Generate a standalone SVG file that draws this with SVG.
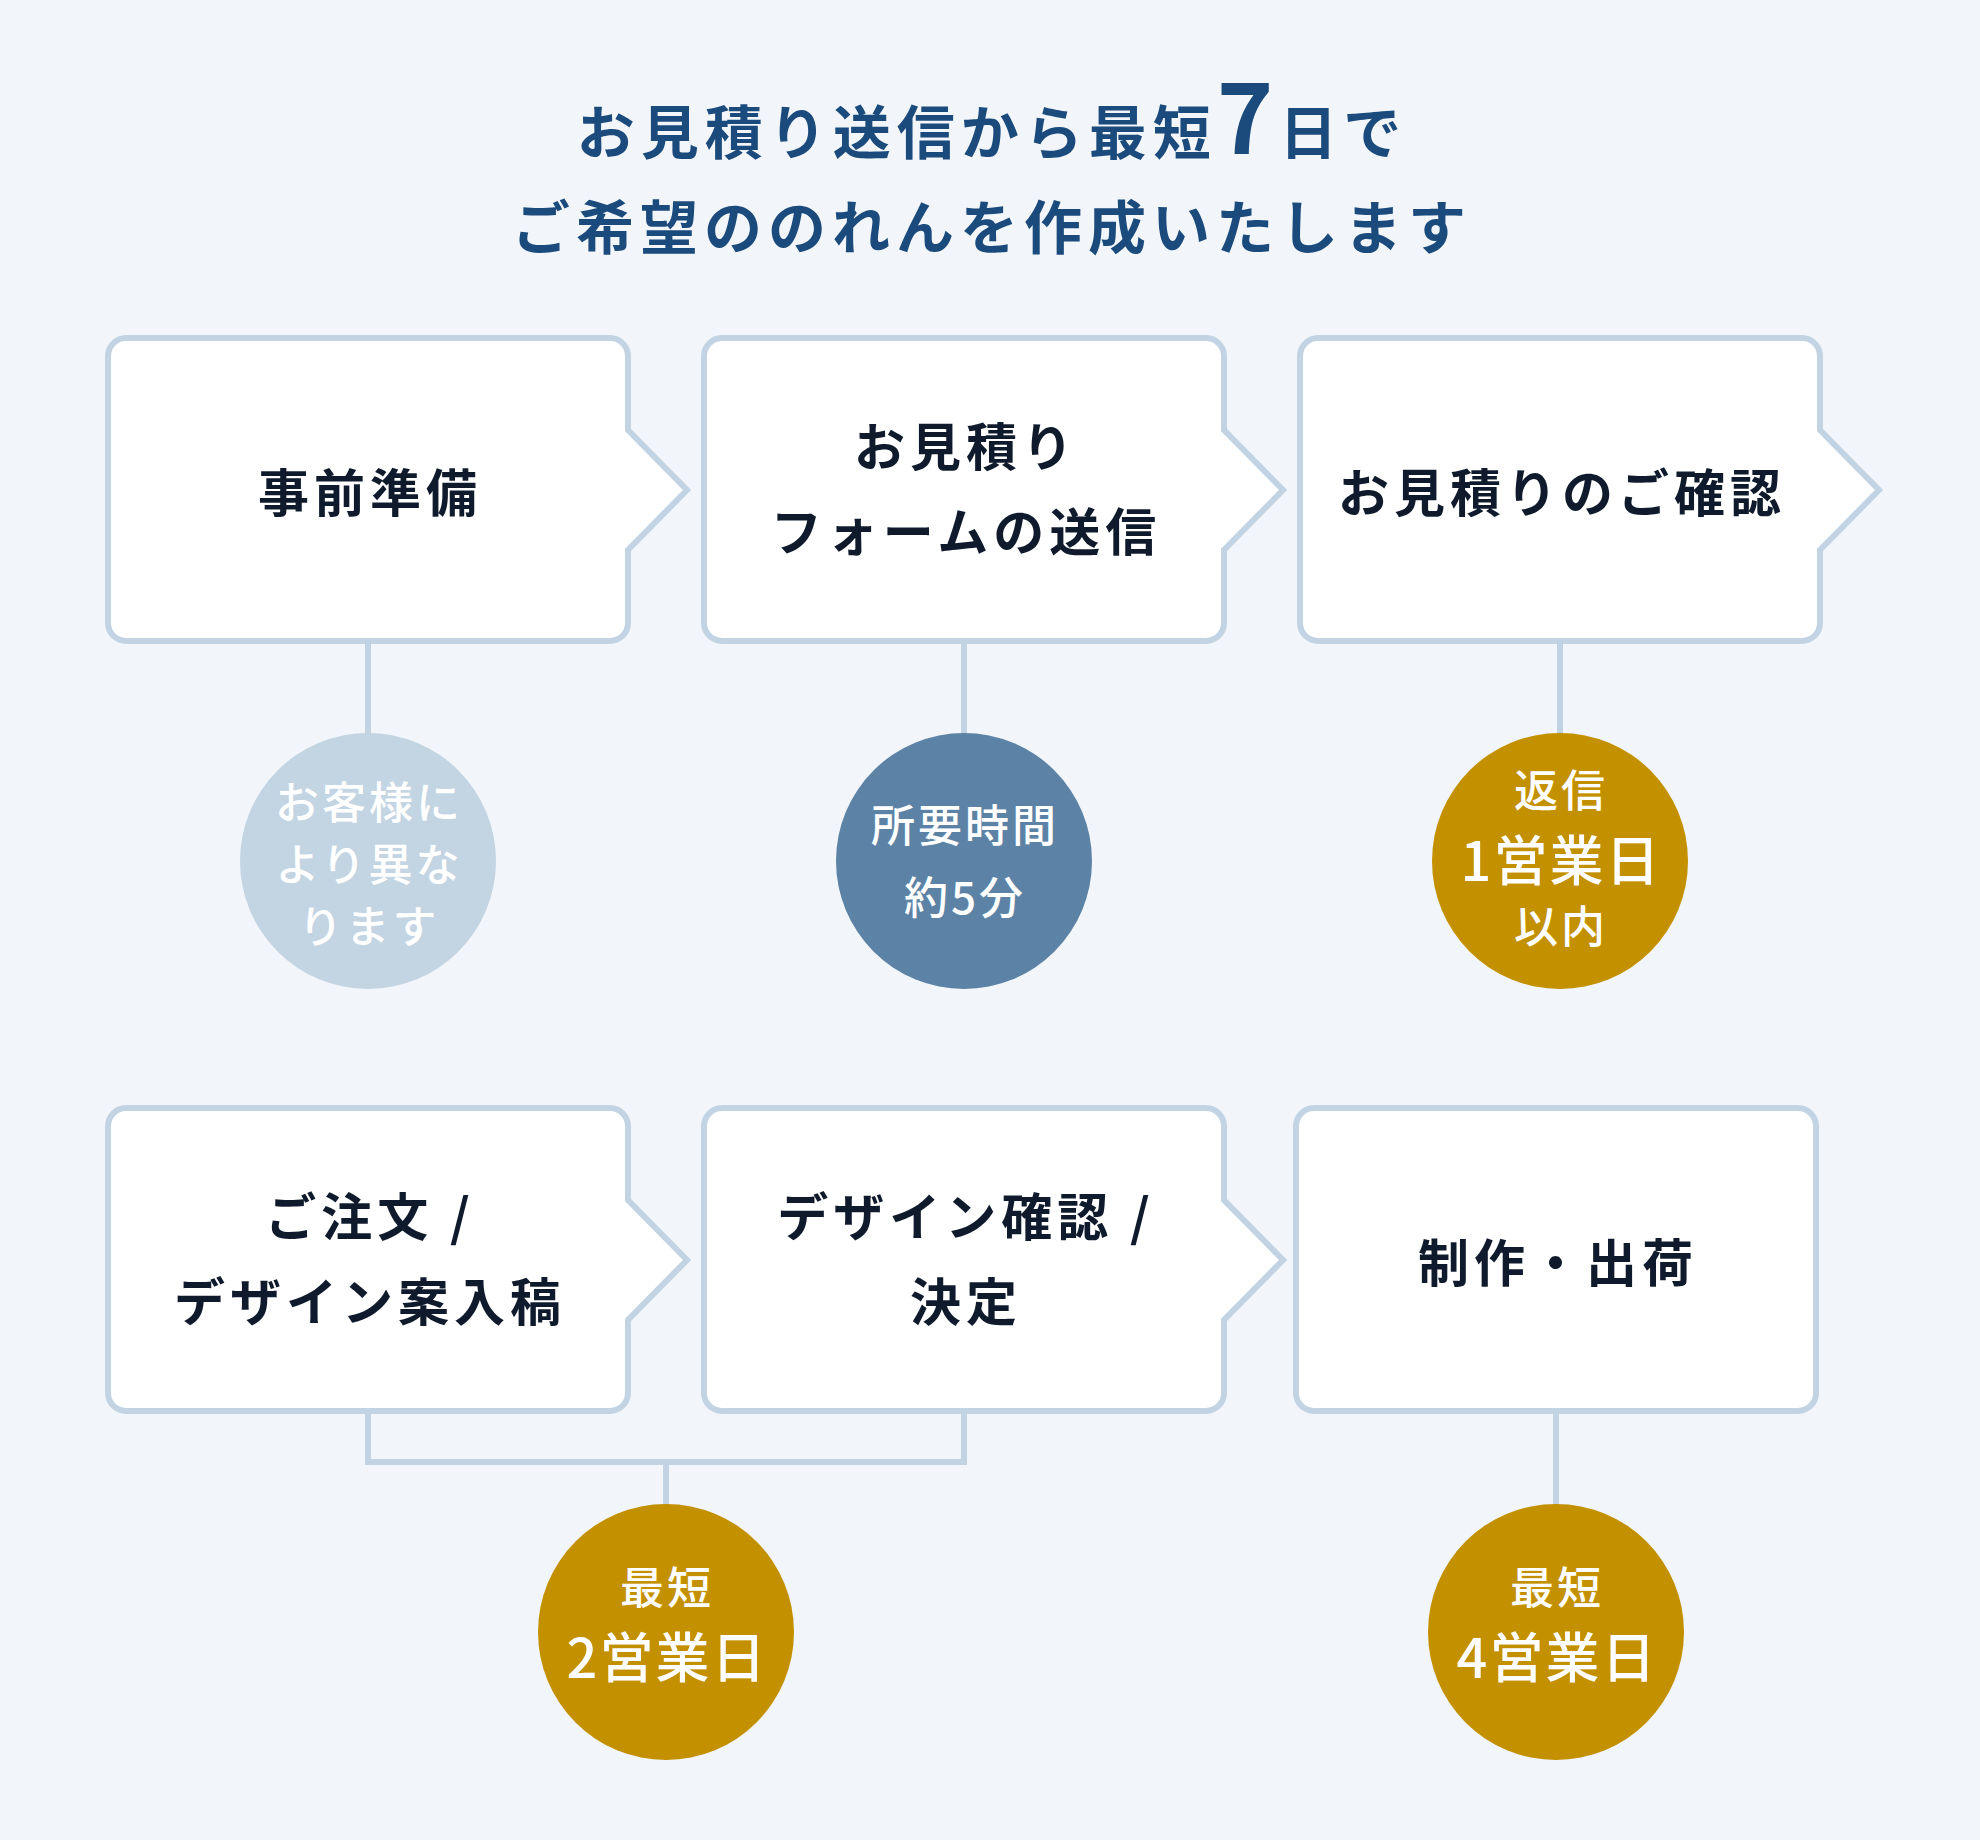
<svg xmlns="http://www.w3.org/2000/svg" width="1980" height="1840" viewBox="0 0 1980 1840">
  <style>
    .title { font-family: "Noto Sans CJK JP", "Noto Sans", sans-serif; font-weight: 700; font-size: 58px; fill: #1b4a7c; letter-spacing: 6px; }
    .big7 { font-size: 96px; }
    .box { fill: #ffffff; stroke: #c2d4e3; stroke-width: 6; }
    .label { font-family: "Noto Sans CJK JP", "Noto Sans", sans-serif; font-weight: 700; font-size: 51px; fill: #0f1b2c; letter-spacing: 5px; text-anchor: middle; }
    .conn { fill: none; stroke: #c2d4e3; stroke-width: 6; }
    .ctext { font-family: "Noto Sans CJK JP", "Noto Sans", sans-serif; font-weight: 500; font-size: 44px; fill: #ffffff; letter-spacing: 3px; text-anchor: middle; }
    .cbig { font-size: 54px; letter-spacing: 2px; }
    .c-light { fill: #c3d4e3; }
    .c-mid { fill: #5c83a6; }
    .c-gold { fill: #c39000; }
  </style>
  <defs>
    <path id="arrowBox" d="M18,0 H502 A18,18 0 0 1 520,18 V92 L579,152 L520,212 V285 A18,18 0 0 1 502,303 H18 A18,18 0 0 1 0,285 V18 A18,18 0 0 1 18,0 Z"/>
  </defs>
  <rect x="0" y="0" width="1980" height="1840" fill="#f2f6fa"/>

  <g id="title">
    <text class="title" x="992" y="154" text-anchor="middle">お見積り送信から最短<tspan class="big7">7</tspan>日で</text>
    <text class="title" x="992" y="249" text-anchor="middle">ご希望ののれんを作成いたします</text>
  </g>

  <g id="connectors">
    <line class="conn" x1="368" y1="641" x2="368" y2="736"/>
    <line class="conn" x1="964" y1="641" x2="964" y2="736"/>
    <line class="conn" x1="1560" y1="641" x2="1560" y2="736"/>
    <path class="conn" d="M368,1411 V1462 H964 V1411"/>
    <line class="conn" x1="666" y1="1462" x2="666" y2="1508"/>
    <line class="conn" x1="1556" y1="1411" x2="1556" y2="1508"/>
  </g>

  <g id="step1">
    <use href="#arrowBox" class="box" transform="translate(108,338)"/>
    <text class="label" x="370" y="512">事前準備</text>
  </g>
  <g id="step2">
    <use href="#arrowBox" class="box" transform="translate(704,338)"/>
    <text class="label" x="966" y="466">お見積り</text>
    <text class="label" x="966" y="551">フォームの送信</text>
  </g>
  <g id="step3">
    <use href="#arrowBox" class="box" transform="translate(1300,338)"/>
    <text class="label" x="1562" y="512">お見積りのご確認</text>
  </g>
  <g id="step4">
    <use href="#arrowBox" class="box" transform="translate(108,1108)"/>
    <text class="label" x="370" y="1236">ご注文 /</text>
    <text class="label" x="370" y="1321">デザイン案入稿</text>
  </g>
  <g id="step5">
    <use href="#arrowBox" class="box" transform="translate(704,1108)"/>
    <text class="label" x="966" y="1236">デザイン確認 /</text>
    <text class="label" x="966" y="1321">決定</text>
  </g>
  <g id="step6">
    <rect class="box" x="1296" y="1108" width="520" height="303" rx="18" ry="18"/>
    <text class="label" x="1558" y="1282">制作・出荷</text>
  </g>

  <g id="badge1">
    <circle class="c-light" cx="368" cy="861" r="128"/>
    <text class="ctext" x="369" y="819">お客様に</text>
    <text class="ctext" x="369" y="881">より異な</text>
    <text class="ctext" x="369" y="943">ります</text>
  </g>
  <g id="badge2">
    <circle class="c-mid" cx="964" cy="861" r="128"/>
    <text class="ctext" x="965" y="842">所要時間</text>
    <text class="ctext" x="965" y="914">約5分</text>
  </g>
  <g id="badge3">
    <circle class="c-gold" cx="1560" cy="861" r="128"/>
    <text class="ctext" x="1561" y="807">返信</text>
    <text class="ctext cbig" x="1561" y="881">1営業日</text>
    <text class="ctext" x="1561" y="943">以内</text>
  </g>
  <g id="badge4">
    <circle class="c-gold" cx="666" cy="1632" r="128"/>
    <text class="ctext" x="667" y="1604">最短</text>
    <text class="ctext cbig" x="667" y="1678">2営業日</text>
  </g>
  <g id="badge5">
    <circle class="c-gold" cx="1556" cy="1632" r="128"/>
    <text class="ctext" x="1557" y="1604">最短</text>
    <text class="ctext cbig" x="1557" y="1678">4営業日</text>
  </g>
</svg>
